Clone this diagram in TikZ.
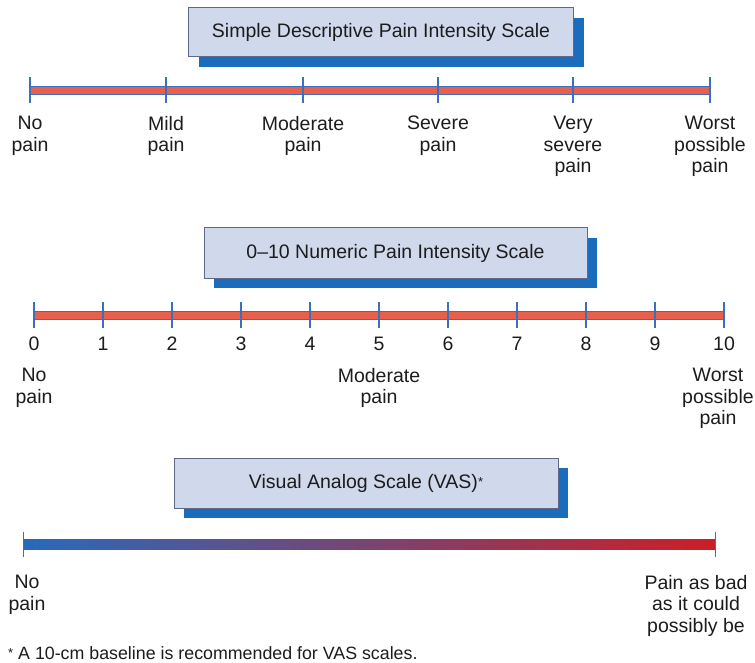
\documentclass[tikz,border=0pt]{standalone}
\usepackage{fontspec}
\setmainfont{Liberation Sans}
\usetikzlibrary{shadows}

\definecolor{boxfill}{RGB}{208,216,236}
\definecolor{boxedge}{RGB}{95,105,135}
\definecolor{shadowblue}{RGB}{28,108,190}
\definecolor{barred}{RGB}{232,96,76}
\definecolor{barblue}{RGB}{62,110,190}
\definecolor{vasblue}{RGB}{40,106,188}
\definecolor{vasred}{RGB}{204,30,38}
\definecolor{inkgray}{RGB}{28,28,28}

\newcommand{\smallstar}{\raisebox{2pt}{\fontsize{13}{13}\selectfont *}}

\begin{document}
\begin{tikzpicture}[x=1pt, y=-1pt, every node/.style={font=\fontsize{19.5}{21.5}\selectfont, text=inkgray},
	titlebox/.style={draw=boxedge, line width=1pt, fill=boxfill, minimum width=385pt, minimum height=49pt, inner sep=0pt,
		drop shadow={shadow xshift=10pt, shadow yshift=-10pt, fill=shadowblue, opacity=1}},
	lab/.style={align=center, anchor=north, inner sep=0pt},
	tick/.style={draw=barblue, line width=1.4pt},
	bar/.style={draw=barblue, line width=0.9pt, fill=barred}]
	\useasboundingbox (0,0) rectangle (755,663);
	% simple descriptive scale
	\node[titlebox] (title1) at (381,32.5) {Simple Descriptive Pain Intensity Scale};
	\coordinate (s1a) at (30,90);
	\coordinate (s1b) at (710,90);
	\draw[bar] ([yshift=4pt]s1a) rectangle ([yshift=-4pt]s1b);
	\foreach \x/\lbl [count=\i] in {30/{No\\pain}, 166/{Mild\\pain}, 303/{Moderate\\pain}, 438/{Severe\\pain}, 573/{Very\\severe\\pain}, 710/{Worst\\possible\\pain}} {
		\draw[tick] (\x,77) -- (\x,103);
		\node[lab] (d\i) at (\x,116) {\lbl};
	}
	% numeric scale
	\node[titlebox, minimum width=383pt, minimum height=50pt] (title2) at (395.5,253) {0--10 Numeric Pain Intensity Scale};
	\coordinate (s2a) at (34,315);
	\coordinate (s2b) at (724,315);
	\draw[bar] ([yshift=4pt]s2a) rectangle ([yshift=-4pt]s2b);
	\foreach \n in {0,...,10} {
		\draw[tick] (34+69*\n,302) -- (34+69*\n,328);
		\node[anchor=base, inner sep=0pt] (n\n) at (34+69*\n,350) {\n};
	}
	\node[lab] (m1) at (34,368) {No\\pain};
	\node[lab] (m2) at (379,368) {Moderate\\pain};
	\node[lab] (m3) at (718,368) {Worst\\possible\\pain};
	% visual analog scale
	\node[titlebox, minimum width=384pt, minimum height=50pt] (title3) at (366,483) {Visual Analog Scale (VAS)\smallstar};
	\coordinate (s3a) at (23,544);
	\coordinate (s3b) at (715,544);
	\shade[left color=vasblue, right color=vasred] ([yshift=5pt]s3a) rectangle ([yshift=-5pt]s3b);
	\draw[barblue, line width=1pt] (23,532) -- (23,557) (715,532) -- (715,557);
	\node[lab] (v1) at (27,575) {No\\pain};
	\node[lab] (v2) at (696,575) {Pain as bad\\as it could\\possibly be};
	\node[anchor=base west, inner sep=0pt, font=\fontsize{17.8}{20}\selectfont] (note) at (8,659) {\smallstar\ A 10-cm baseline is recommended for VAS scales.};
\end{tikzpicture}
\end{document}
